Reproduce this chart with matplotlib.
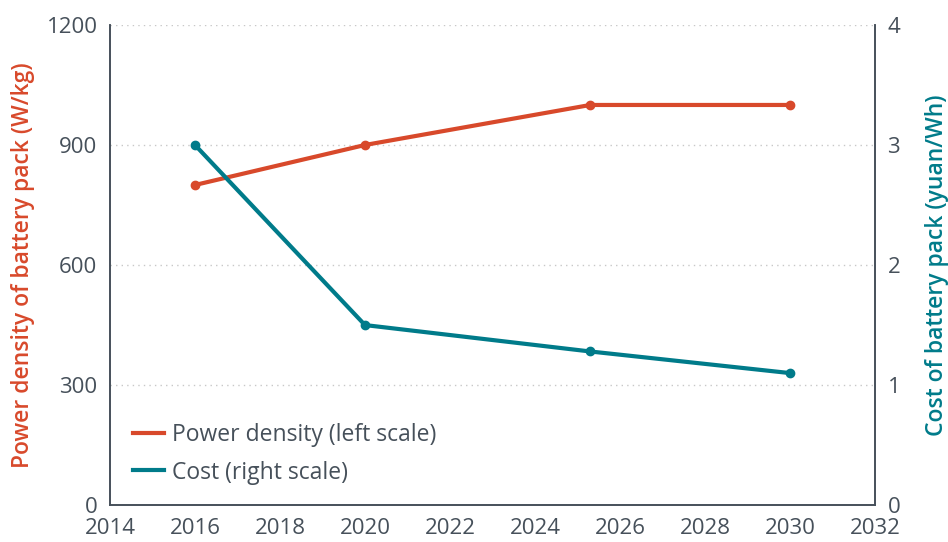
import matplotlib
matplotlib.use("Agg")
import matplotlib.pyplot as plt

# values
years         = [2016, 2020, 2025.3, 2030]
power_density = [800, 900, 1000, 1000]     # W/kg, left scale
cost          = [3.0, 1.5, 1.28, 1.1]      # yuan/Wh, right scale
x_ticks       = list(range(2014, 2033, 2))
left_ticks    = [0, 300, 600, 900, 1200]
right_ticks   = [0, 1, 2, 3, 4]

ORANGE = "#d8492b"
TEAL   = "#007b8a"
GREY   = "#46505a"

plt.rcParams["font.family"] = ["Open Sans", "DejaVu Sans"]

fig, ax = plt.subplots(figsize=(9.48, 5.42), dpi=100)
fig.subplots_adjust(left=0.116, right=0.923, top=0.954, bottom=0.068)
ax2 = ax.twinx()

l1, = ax.plot(years, power_density, color=ORANGE, linewidth=3,
              marker="o", markersize=6, label="Power density (left scale)")
l2, = ax2.plot(years, cost, color=TEAL, linewidth=3,
               marker="o", markersize=6, label="Cost (right scale)")

ax.set_xlim(2014, 2032)
ax.set_ylim(0, 1200)
ax2.set_ylim(0, 4)
ax.set_xticks(x_ticks)
ax.set_yticks(left_ticks)
ax2.set_yticks(right_ticks)

ax.grid(axis="y", linestyle=(0, (1, 3)), color="#c8c8c8", linewidth=1)
ax.set_axisbelow(True)

for a in (ax, ax2):
    a.spines["top"].set_visible(False)
    for s in ("left", "right", "bottom"):
        a.spines[s].set_color(GREY)
        a.spines[s].set_linewidth(1.2)
    a.tick_params(length=0, labelsize=16, labelcolor=GREY, pad=9)
ax.tick_params(axis="x", pad=9)

ax.set_ylabel("Power density of battery pack (W/kg)", color=ORANGE,
              fontsize=16.5, fontweight="semibold", labelpad=8)
ax2.set_ylabel("Cost of battery pack (yuan/Wh)", color=TEAL,
               fontsize=16.5, fontweight="semibold", labelpad=18)

leg = ax.legend(handles=[l1, l2], loc="lower left",
                bbox_to_anchor=(0.003, 0.0), frameon=False,
                fontsize=16.5, handlelength=1.35, handletextpad=0.35,
                labelspacing=0.6, labelcolor=GREY)
for h in leg.legend_handles:
    h.set_marker("")

plt.savefig("out.png", dpi=100, facecolor="white")
plt.close()
